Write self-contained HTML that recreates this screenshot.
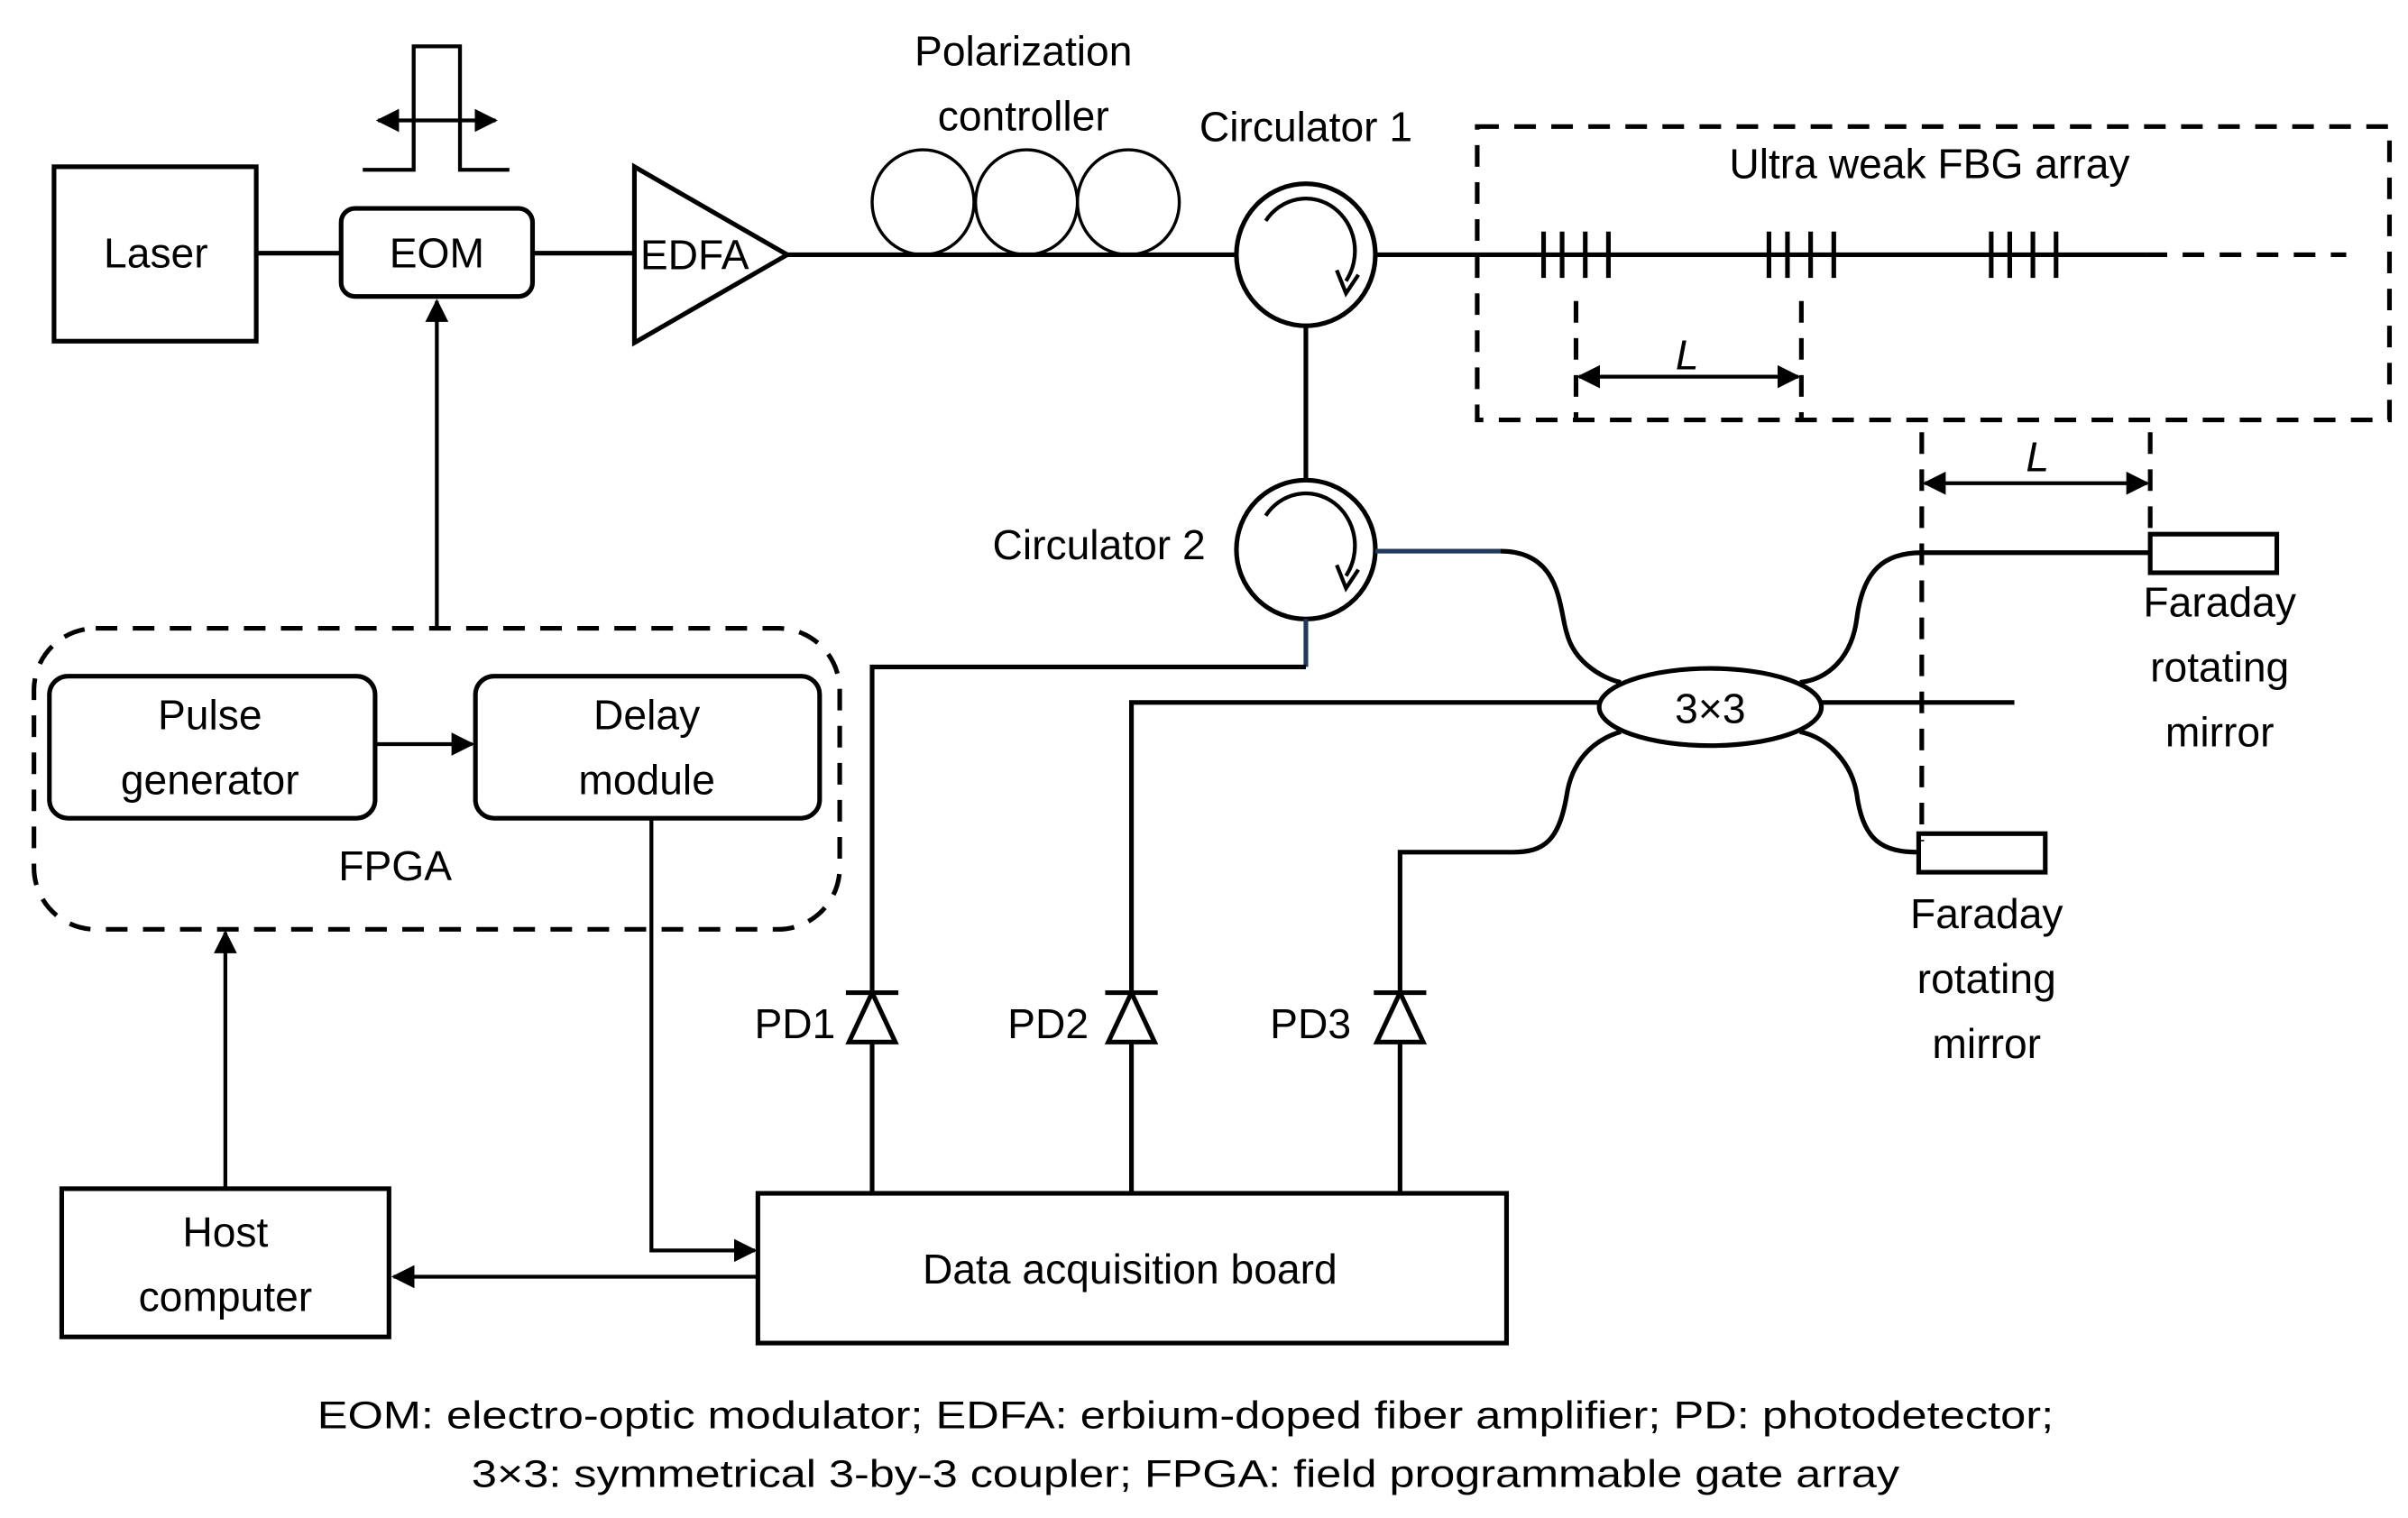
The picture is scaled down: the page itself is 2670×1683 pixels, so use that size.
<!DOCTYPE html>
<html><head><meta charset="utf-8"><style>html,body{margin:0;padding:0;background:#fff}svg{display:block}</style></head><body>
<svg width="2670" height="1683" viewBox="0 0 1560 983.3" xmlns="http://www.w3.org/2000/svg" font-family="Liberation Sans, sans-serif" font-size="27" fill="none" stroke="#000" stroke-width="3">
<defs>
<marker id="a" viewBox="0 0 10 10" refX="9" refY="5" markerWidth="6" markerHeight="6" orient="auto-start-reverse"><path d="M0,0 L10,5 L0,10 z" fill="#000" stroke="none"/></marker>
</defs>
<!-- Laser -->
<rect x="35" y="108" width="131" height="113"/>
<line x1="166" y1="164" x2="221" y2="164"/>
<rect x="221" y="135" width="124" height="57" rx="9"/>
<line x1="345" y1="164" x2="411" y2="164"/>
<!-- pulse icon -->
<polyline points="235,110 268,110 268,30 298,30 298,110 330,110" stroke-width="2.5"/>
<line x1="245" y1="78" x2="321" y2="78" stroke-width="2.5" marker-start="url(#a)" marker-end="url(#a)"/>
<!-- EDFA -->
<polygon points="411,108 411,222 510,165"/>
<line x1="510" y1="165" x2="800" y2="165"/>
<ellipse cx="598" cy="131" rx="33" ry="34" stroke-width="2"/>
<ellipse cx="665" cy="131" rx="33" ry="34" stroke-width="2"/>
<ellipse cx="731" cy="131" rx="33" ry="34" stroke-width="2"/>
<!-- circulator 1 -->
<ellipse cx="846" cy="165" rx="45" ry="46"/>
<path d="M820,143 A30,32 0 0 1 872,182" stroke-width="2.5"/>
<path d="M866,175 L872,190 L880,178" stroke-width="2.5"/>
<line x1="891" y1="165" x2="1390" y2="165"/>
<line x1="1390" y1="165" x2="1520" y2="165" stroke-dasharray="14,10"/>
<g stroke-width="3">
<line x1="1000" y1="150" x2="1000" y2="180"/><line x1="1012" y1="150" x2="1012" y2="180"/><line x1="1027" y1="150" x2="1027" y2="180"/><line x1="1042" y1="150" x2="1042" y2="180"/>
<line x1="1146" y1="150" x2="1146" y2="180"/><line x1="1158" y1="150" x2="1158" y2="180"/><line x1="1173" y1="150" x2="1173" y2="180"/><line x1="1188" y1="150" x2="1188" y2="180"/>
<line x1="1290" y1="150" x2="1290" y2="180"/><line x1="1302" y1="150" x2="1302" y2="180"/><line x1="1317" y1="150" x2="1317" y2="180"/><line x1="1332" y1="150" x2="1332" y2="180"/>
</g>
<rect x="957" y="82" width="591" height="190" stroke-dasharray="14,10"/>
<line x1="1021" y1="195" x2="1021" y2="272" stroke-dasharray="14,10"/>
<line x1="1167" y1="195" x2="1167" y2="272" stroke-dasharray="14,10"/>
<line x1="1023" y1="244" x2="1165" y2="244" stroke-width="2.5" marker-start="url(#a)" marker-end="url(#a)"/>
<!-- circulator 2 -->
<line x1="846" y1="211" x2="846" y2="311"/>
<ellipse cx="846" cy="356" rx="45" ry="45"/>
<path d="M820,334 A30,32 0 0 1 872,373" stroke-width="2.5"/>
<path d="M866,366 L872,381 L880,369" stroke-width="2.5"/>
<line x1="891" y1="357" x2="972" y2="357" stroke="#1f3a5f"/>
<path d="M972,357 C1012,357 1010,395 1015,410 C1020,430 1040,440 1050,442"/>
<polyline points="846,401 846,432" stroke="#1f3a5f"/>
<polyline points="846,432 565,432 565,645"/>
<polyline points="1036,455 733,455 733,645"/>
<path d="M1050,474 C1030,480 1018,495 1015,515 C1010,545 1000,552 980,552 L907,552 L907,645"/>
<ellipse cx="1108" cy="458" rx="72" ry="25"/>
<path d="M1166,442 C1185,440 1200,425 1203,400 C1207,370 1220,358 1245,358 L1393,358"/>
<line x1="1180" y1="455" x2="1305" y2="455"/>
<path d="M1166,474 C1185,478 1200,495 1203,515 C1207,545 1220,552 1243,552"/>
<rect x="1393" y="346" width="82" height="25"/>
<rect x="1243" y="540" width="82" height="25"/>
<line x1="1245" y1="280" x2="1245" y2="545" stroke-dasharray="14,10"/>
<line x1="1393" y1="280" x2="1393" y2="345" stroke-dasharray="14,10"/>
<line x1="1247" y1="313" x2="1391" y2="313" stroke-width="2.5" marker-start="url(#a)" marker-end="url(#a)"/>
<!-- PDs -->
<g>
<polygon points="565,643 550,675 580,675"/><line x1="548" y1="643" x2="582" y2="643"/><line x1="565" y1="675" x2="565" y2="773"/>
<polygon points="733,643 718,675 748,675"/><line x1="716" y1="643" x2="750" y2="643"/><line x1="733" y1="675" x2="733" y2="773"/>
<polygon points="907,643 892,675 922,675"/><line x1="890" y1="643" x2="924" y2="643"/><line x1="907" y1="675" x2="907" y2="773"/>
</g>
<rect x="491" y="773" width="485" height="97"/>
<rect x="40" y="770" width="212" height="96"/>
<!-- FPGA -->
<rect x="22" y="407" width="522" height="195" rx="40" stroke-dasharray="14,10"/>
<rect x="32" y="438" width="211" height="92" rx="12"/>
<rect x="308" y="438" width="223" height="92" rx="12"/>
<line x1="243" y1="482" x2="306" y2="482" stroke-width="2.5" marker-end="url(#a)"/>
<line x1="283" y1="407" x2="283" y2="195" stroke-width="2.5" marker-end="url(#a)"/>
<polyline points="422,530 422,810 489,810" stroke-width="2.5" marker-end="url(#a)"/>
<line x1="491" y1="827" x2="255" y2="827" stroke-width="2.5" marker-end="url(#a)"/>
<line x1="146" y1="770" x2="146" y2="604" stroke-width="2.5" marker-end="url(#a)"/>
<!-- text -->
<g fill="#000" stroke="none" text-anchor="middle" dominant-baseline="central">
<text x="101" y="164">Laser</text>
<text x="283" y="164">EOM</text>
<text x="450" y="165">EDFA</text>
<text x="663" y="33">Polarization</text>
<text x="663" y="75">controller</text>
<text x="846" y="82">Circulator 1</text>
<text x="712" y="353">Circulator 2</text>
<text x="1250" y="106">Ultra weak FBG array</text>
<text x="1093" y="230" font-style="italic">L</text>
<text x="1320" y="296" font-style="italic">L</text>
<text x="1108" y="459">3×3</text>
<text x="1438" y="390">Faraday</text>
<text x="1438" y="432">rotating</text>
<text x="1438" y="474">mirror</text>
<text x="1287" y="592">Faraday</text>
<text x="1287" y="634">rotating</text>
<text x="1287" y="676">mirror</text>
<text x="515" y="663">PD1</text>
<text x="679" y="663">PD2</text>
<text x="849" y="663">PD3</text>
<text x="136" y="463">Pulse</text>
<text x="136" y="505">generator</text>
<text x="419" y="463">Delay</text>
<text x="419" y="505">module</text>
<text x="256" y="561">FPGA</text>
<text x="732" y="822">Data acquisition board</text>
<text x="146" y="798">Host</text>
<text x="146" y="840">computer</text>
<text x="768" y="917" font-size="25" textLength="1125" lengthAdjust="spacingAndGlyphs">EOM: electro-optic modulator; EDFA: erbium-doped fiber amplifier; PD: photodetector;</text>
<text x="768" y="955" font-size="25" textLength="925" lengthAdjust="spacingAndGlyphs">3×3: symmetrical 3-by-3 coupler; FPGA: field programmable gate array</text>
</g>
</svg>
</body></html>
